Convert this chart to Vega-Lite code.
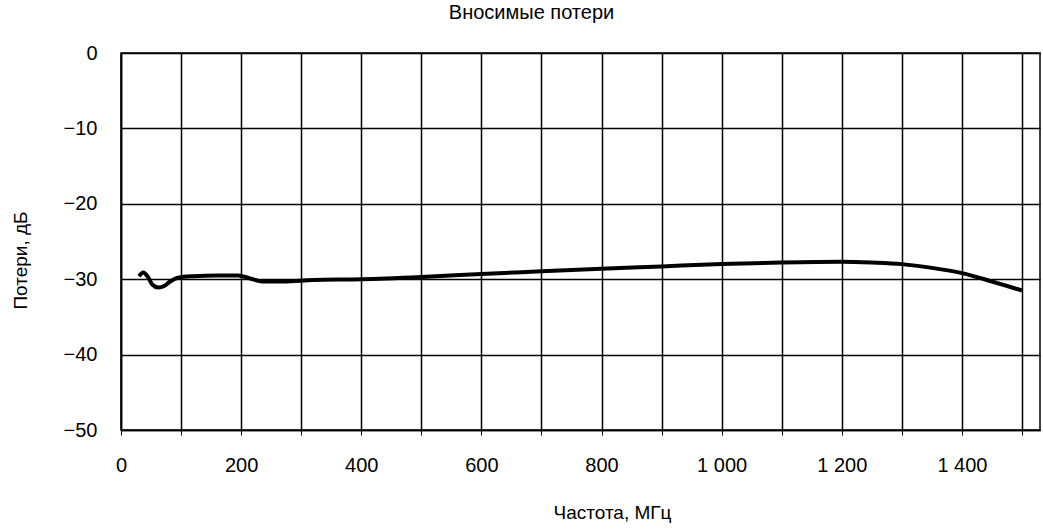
{
  "$schema": "https://vega.github.io/schema/vega-lite/v6.json",
  "autosize": {"type": "none"},
  "width": 919,
  "height": 377,
  "padding": {"left": 121, "top": 53, "right": 3, "bottom": 99},
  "background": "white",
  "config": {
    "font": "Liberation Sans",
    "view": {"stroke": "black", "strokeWidth": 1.5}
  },
  "title": {
    "text": "Вносимые потери",
    "fontSize": 20,
    "fontWeight": "normal",
    "color": "black",
    "anchor": "middle",
    "dx": -49,
    "offset": 20
  },
  "data": {
    "values": [
      {"f": 30, "loss": -29.6},
      {"f": 37, "loss": -29.1},
      {"f": 44, "loss": -29.6},
      {"f": 52, "loss": -30.7},
      {"f": 62, "loss": -31.1},
      {"f": 72, "loss": -30.9},
      {"f": 82, "loss": -30.3},
      {"f": 95, "loss": -29.8},
      {"f": 120, "loss": -29.6},
      {"f": 160, "loss": -29.5},
      {"f": 195, "loss": -29.5},
      {"f": 215, "loss": -29.9},
      {"f": 235, "loss": -30.3},
      {"f": 270, "loss": -30.3},
      {"f": 320, "loss": -30.1},
      {"f": 400, "loss": -30.0},
      {"f": 500, "loss": -29.7},
      {"f": 600, "loss": -29.3},
      {"f": 700, "loss": -28.95},
      {"f": 800, "loss": -28.6},
      {"f": 900, "loss": -28.3},
      {"f": 1000, "loss": -28.0},
      {"f": 1100, "loss": -27.8},
      {"f": 1200, "loss": -27.7},
      {"f": 1250, "loss": -27.8},
      {"f": 1300, "loss": -28.0},
      {"f": 1350, "loss": -28.5},
      {"f": 1400, "loss": -29.2},
      {"f": 1450, "loss": -30.3},
      {"f": 1500, "loss": -31.5}
    ]
  },
  "mark": {"type": "line", "color": "black", "strokeWidth": 4, "interpolate": "monotone"},
  "encoding": {
    "x": {
      "field": "f",
      "type": "quantitative",
      "scale": {"domain": [0, 1530], "nice": false, "zero": false},
      "axis": {
        "title": "Частота, МГц",
        "titleFontSize": 19,
        "titleFontWeight": "normal",
        "titleColor": "black",
        "titleX": 491,
        "titleY": 82,
        "titleBaseline": "middle",
        "values": [0, 100, 200, 300, 400, 500, 600, 700, 800, 900, 1000, 1100, 1200, 1300, 1400, 1500],
        "labelExpr": "datum.value % 200 == 0 ? replace(format(datum.value, ','), ',', ' ') : ''",
        "labelFontSize": 20,
        "labelColor": "black",
        "labelPadding": 20,
        "labelFlush": false,
        "tickColor": "black",
        "tickSize": 5,
        "domainColor": "black",
        "domainWidth": 1.5,
        "grid": true,
        "gridColor": "black",
        "gridWidth": 1.5,
        "gridOpacity": 1
      }
    },
    "y": {
      "field": "loss",
      "type": "quantitative",
      "scale": {"domain": [-50, 0], "nice": false},
      "axis": {
        "title": "Потери, дБ",
        "titleFontSize": 19,
        "titleFontWeight": "normal",
        "titleColor": "black",
        "titleX": -101,
        "titleY": 207,
        "titleBaseline": "middle",
        "titleAlign": "center",
        "values": [-50, -40, -30, -20, -10, 0],
        "labelFontSize": 20,
        "labelColor": "black",
        "labelPadding": 24,
        "labelFlush": false,
        "ticks": false,
        "domainColor": "black",
        "domainWidth": 1.5,
        "grid": true,
        "gridColor": "black",
        "gridWidth": 1.5,
        "gridOpacity": 1
      }
    }
  }
}
